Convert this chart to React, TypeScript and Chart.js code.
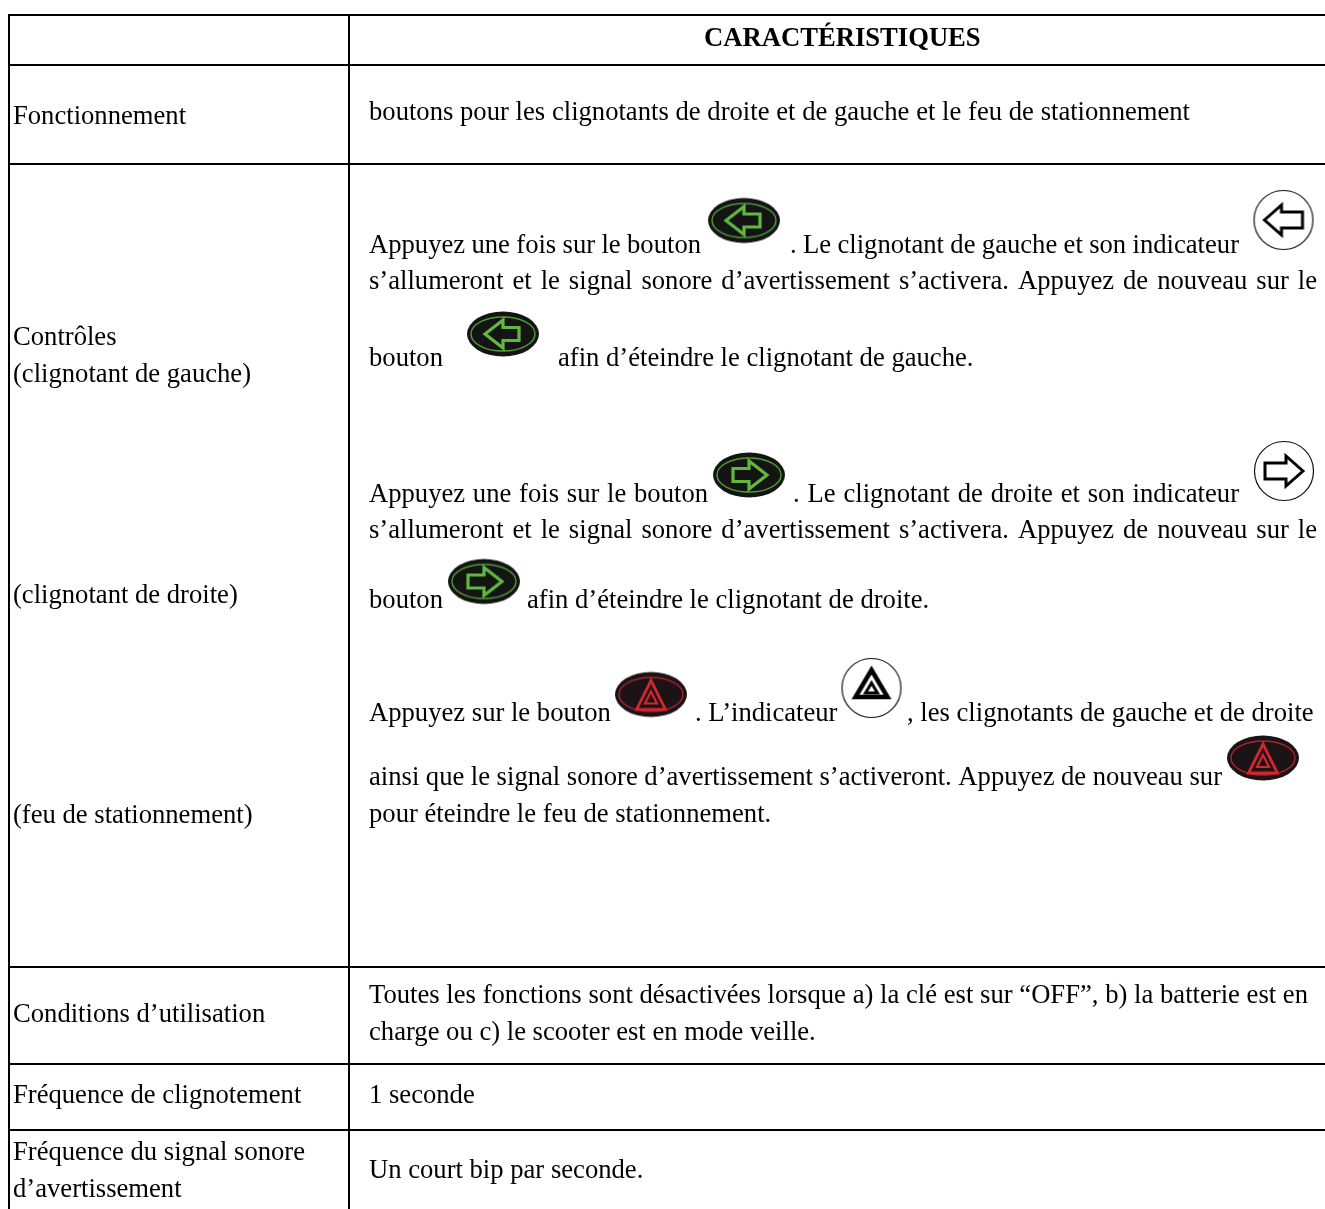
import React, { useEffect, useRef } from "react";
import { Chart, registerables } from "chart.js";

Chart.register(...registerables);

const FONT = '"Liberation Serif", "Times New Roman", serif';
const FONT_SIZE = 26.64;

// table rules
const rowRules = [15, 65, 164, 967, 1064, 1130];
const colRules = [9, 349];

// [text, x, baseline, optional right edge for justified text, optional bold]
type Row = [string, number, number, number?, boolean?];

const headerRows: Row[] = [["CARACTÉRISTIQUES", 704, 46, undefined, true]];

const leftLabels: Row[] = [
  ["Fonctionnement", 13, 124],
  ["Contrôles", 13, 345],
  ["(clignotant de gauche)", 13, 382],
  ["(clignotant de droite)", 13, 603],
  ["(feu de stationnement)", 13, 823],
  ["Conditions d’utilisation", 13, 1022],
  ["Fréquence de clignotement", 13, 1103],
  ["Fréquence du signal sonore", 13, 1160],
  ["d’avertissement", 13, 1197],
];

const rightLines: Row[] = [
  ["boutons pour les clignotants de droite et de gauche et le feu de stationnement", 369, 120, 1190],
  ["Appuyez une fois sur le bouton", 369, 253, 701],
  [". Le clignotant de gauche et son indicateur", 790, 253, 1239],
  ["s’allumeront et le signal sonore d’avertissement s’activera. Appuyez de nouveau sur le", 369, 289, 1317],
  ["bouton", 369, 366],
  ["afin d’éteindre le clignotant de gauche.", 558, 366],
  ["Appuyez une fois sur le bouton", 369, 502, 708],
  [". Le clignotant de droite et son indicateur", 793, 502, 1239],
  ["s’allumeront et le signal sonore d’avertissement s’activera. Appuyez de nouveau sur le", 369, 538, 1317],
  ["bouton", 369, 608],
  ["afin d’éteindre le clignotant de droite.", 527, 608],
  ["Appuyez sur le bouton", 369, 721],
  [". L’indicateur", 695, 721],
  [", les clignotants de gauche et de droite", 907, 721],
  ["ainsi que le signal sonore d’avertissement s’activeront. Appuyez de nouveau sur", 369, 785, 1222],
  ["pour éteindre le feu de stationnement.", 369, 822],
  ["Toutes les fonctions sont désactivées lorsque a) la clé est sur “OFF”, b) la batterie est en", 369, 1003, 1308],
  ["charge ou c) le scooter est en mode veille.", 369, 1040],
  ["1 seconde", 369, 1103],
  ["Un court bip par seconde.", 369, 1178],
];

// icon centres
const greenLeftIcons = [{ x: 744, y: 220.5 }, { x: 503, y: 334 }];
const greenRightIcons = [{ x: 749, y: 475 }, { x: 484, y: 581.5 }];
const redIcons = [{ x: 651, y: 694.5 }, { x: 1263, y: 758 }];
const indicatorLeft = [{ x: 1283.5, y: 220 }];
const indicatorRight = [{ x: 1284, y: 471 }];
const indicatorHazard = [{ x: 871.5, y: 688 }];

function makeIcon(w: number, h: number, draw: (c: CanvasRenderingContext2D) => void) {
  const cv = document.createElement("canvas");
  cv.width = w;
  cv.height = h;
  const c = cv.getContext("2d")!;
  c.translate(w / 2, h / 2);
  c.lineJoin = "miter";
  draw(c);
  return cv;
}

function poly(c: CanvasRenderingContext2D, pts: number[][]) {
  c.beginPath();
  pts.forEach((p, i) => (i ? c.lineTo(p[0], p[1]) : c.moveTo(p[0], p[1])));
  c.closePath();
}

function buttonBase(c: CanvasRenderingContext2D, fill: string, ring: string) {
  c.fillStyle = fill;
  c.beginPath();
  c.ellipse(0, 0, 36, 22.5, 0, 0, Math.PI * 2);
  c.fill();
  c.strokeStyle = ring;
  c.lineWidth = 1.4;
  c.beginPath();
  c.ellipse(0, 0, 32, 17, 0, 0, Math.PI * 2);
  c.stroke();
}

const arrowLeftPts = [[-18, 0], [0, -14], [0, -6.5], [16, -6.5], [16, 6.5], [0, 6.5], [0, 14]];
const arrowRightPts = arrowLeftPts.map((p) => [-p[0], p[1]]);

function greenButton(pts: number[][]) {
  return makeIcon(76, 50, (c) => {
    buttonBase(c, "#141414", "#4f9a3a");
    poly(c, pts);
    c.fillStyle = "#141414";
    c.fill();
    c.strokeStyle = "#62b83f";
    c.lineWidth = 3.2;
    c.stroke();
  });
}

function redButton() {
  return makeIcon(76, 50, (c) => {
    buttonBase(c, "#1b1315", "#a8232c");
    poly(c, [[0, -14], [-14.5, 15], [14.5, 15]]);
    c.fillStyle = "#1b1315";
    c.fill();
    c.strokeStyle = "#d3262f";
    c.lineWidth = 2.8;
    c.stroke();
    poly(c, [[0, -3], [-6, 9], [6, 9]]);
    c.lineWidth = 2.2;
    c.stroke();
  });
}

function indicator(draw: (c: CanvasRenderingContext2D) => void) {
  return makeIcon(64, 64, (c) => {
    c.strokeStyle = "#111";
    c.lineWidth = 1.2;
    c.beginPath();
    c.arc(0, 0, 29.5, 0, Math.PI * 2);
    c.stroke();
    draw(c);
  });
}

function arrowIndicator(flip: number) {
  return indicator((c) => {
    poly(c, [[-19, 0], [-2, -15], [-2, -8], [19, -8], [19, 8], [-2, 8], [-2, 15]].map((p) => [p[0] * flip, p[1]]));
    c.strokeStyle = "#000";
    c.lineWidth = 3;
    c.stroke();
  });
}

function hazardIndicator() {
  return indicator((c) => {
    c.strokeStyle = "#000";
    poly(c, [[0, -18], [-16, 9], [16, 9]]);
    c.lineWidth = 4.5;
    c.stroke();
    poly(c, [[0, -5], [-6, 5], [6, 5]]);
    c.lineWidth = 3;
    c.stroke();
  });
}

function iconSet(label: string, data: { x: number; y: number }[], style: HTMLCanvasElement) {
  return { label, data, pointStyle: style, pointRadius: 20, showLine: false };
}

const tablePlugin = {
  id: "tableText",
  afterDatasetsDraw(chart: any) {
    const { ctx, scales } = chart;
    ctx.save();
    ctx.fillStyle = "#000";
    ctx.textBaseline = "alphabetic";
    ctx.textAlign = "left";
    for (const [text, x, y, right, bold] of [...headerRows, ...leftLabels, ...rightLines]) {
      ctx.font = `${bold ? "bold " : ""}${FONT_SIZE}px ${FONT}`;
      const px = scales.x.getPixelForValue(x);
      const py = scales.y.getPixelForValue(y);
      if (right === undefined) {
        ctx.fillText(text, px, py);
      } else {
        const words = text.split(" ");
        const total = words.reduce((s: number, w: string) => s + ctx.measureText(w).width, 0);
        const gap = (scales.x.getPixelForValue(right) - px - total) / (words.length - 1);
        let cx = px;
        for (const w of words) {
          ctx.fillText(w, cx, py);
          cx += ctx.measureText(w).width + gap;
        }
      }
    }
    ctx.restore();
  },
};

export default function App() {
  const ref = useRef<HTMLCanvasElement>(null);
  useEffect(() => {
    const rules = [
      ...rowRules.map((y) => ({ label: `row ${y}`, data: [{ x: 8, y }, { x: 1325, y }] })),
      ...colRules.map((x) => ({ label: `col ${x}`, data: [{ x, y: 15 }, { x, y: 1209 }] })),
    ].map((d) => ({
      ...d,
      showLine: true,
      borderColor: "#000",
      borderWidth: 2,
      pointRadius: 0,
      tension: 0,
    }));
    const chart = new Chart(ref.current!, {
      type: "scatter",
      data: {
        datasets: [
          ...rules,
          iconSet("bouton gauche", greenLeftIcons, greenButton(arrowLeftPts)),
          iconSet("bouton droite", greenRightIcons, greenButton(arrowRightPts)),
          iconSet("bouton feu", redIcons, redButton()),
          iconSet("indicateur gauche", indicatorLeft, arrowIndicator(1)),
          iconSet("indicateur droite", indicatorRight, arrowIndicator(-1)),
          iconSet("indicateur feu", indicatorHazard, hazardIndicator()),
        ] as any,
      },
      options: {
        responsive: false,
        animation: false,
        layout: { padding: 0, autoPadding: false },
        plugins: { legend: { display: false }, tooltip: { enabled: false } },
        scales: {
          x: { type: "linear", min: 0, max: 1325, display: false },
          y: { type: "linear", min: 0, max: 1209, reverse: true, display: false },
        },
      },
      plugins: [tablePlugin],
    });
    return () => chart.destroy();
  }, []);
  return (
    <div style={{ position: "absolute", left: 0, top: 0, width: 1325, height: 1209, background: "#fff", overflow: "hidden" }}>
      <canvas ref={ref} width={1325} height={1209} />
    </div>
  );
}
